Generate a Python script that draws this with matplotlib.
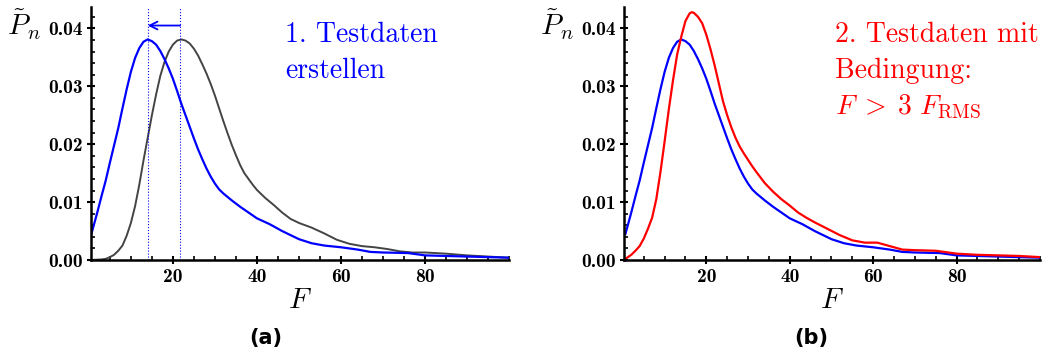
import matplotlib
matplotlib.use('Agg')
import matplotlib.pyplot as plt
from matplotlib.ticker import MultipleLocator, FixedLocator, FormatStrFormatter

plt.rcParams['mathtext.fontset'] = 'cm'

# blue: created test data (shifted distribution)
blue_x = [0.6, 2, 3, 4, 5, 6, 7, 8, 9, 10, 11, 12, 13, 14, 15, 16, 17, 18, 19, 20,
          21, 22, 23, 24, 25, 26, 27, 28, 29, 30, 31, 32, 34, 36, 38, 40, 43, 46,
          48, 50, 53, 56, 60, 64, 67, 70, 76, 80, 85, 90, 95, 100]
blue_y = [0.0045, 0.0082, 0.0110, 0.0137, 0.0168, 0.0198, 0.0228, 0.0262, 0.0295,
          0.0325, 0.0349, 0.0366, 0.0377, 0.0381, 0.0378, 0.0372, 0.0361, 0.0347,
          0.0331, 0.0313, 0.0292, 0.0270, 0.0250, 0.0230, 0.0210, 0.0191, 0.0174,
          0.0158, 0.0144, 0.0132, 0.0122, 0.0115, 0.0103, 0.0092, 0.0082, 0.0072,
          0.0062, 0.0050, 0.0043, 0.0036, 0.0029, 0.0025, 0.0022, 0.0018, 0.0014,
          0.0013, 0.0012, 0.0008, 0.0007, 0.0006, 0.0005, 0.0004]

# gray: original distribution
gray_x = [0.5, 3, 4, 5, 6, 7, 8, 9, 10, 11, 12, 13, 14, 15, 16, 17, 18, 19, 20, 21,
          22, 23, 24, 25, 26, 27, 28, 29, 30, 31, 32, 33, 34, 35, 36, 37, 38, 39,
          40, 41, 42, 44, 46, 48, 50, 53, 56, 59, 62, 65, 68, 71, 74, 77, 80, 85,
          90, 95, 100]
gray_y = [0.0, 0.0001, 0.0002, 0.0005, 0.0009, 0.0016, 0.0025, 0.0042, 0.0064,
          0.0093, 0.0130, 0.0172, 0.0211, 0.0250, 0.0286, 0.0318, 0.0342, 0.0360,
          0.0372, 0.0379, 0.0381, 0.0379, 0.0374, 0.0365, 0.0353, 0.0338, 0.0322,
          0.0304, 0.0284, 0.0262, 0.0240, 0.0219, 0.0199, 0.0181, 0.0164, 0.0150,
          0.0140, 0.0130, 0.0121, 0.0114, 0.0107, 0.0095, 0.0082, 0.0071, 0.0064,
          0.0056, 0.0046, 0.0035, 0.0028, 0.0024, 0.0022, 0.0019, 0.0015, 0.0013,
          0.0013, 0.0011, 0.0008, 0.0006, 0.0004]

# red: test data with condition F > 3 F_RMS
red_x = [0.2, 1, 2, 3, 4, 5, 6, 7, 8, 9, 10, 11, 12, 13, 14, 15, 16, 16.5, 17, 18,
         19, 20, 21, 22, 23, 24, 25, 26, 27, 28, 29, 30, 31, 32, 34, 36, 38, 40,
         42, 44, 46, 49, 52, 55, 58, 61, 64, 67, 70, 75, 80, 85, 90, 95, 100]
red_y = [0.0001, 0.0004, 0.0009, 0.0016, 0.0024, 0.0037, 0.0054, 0.0073, 0.0105,
         0.0152, 0.0205, 0.0260, 0.0310, 0.0355, 0.0386, 0.0413, 0.0426, 0.0428,
         0.0427, 0.0420, 0.0409, 0.0389, 0.0364, 0.0336, 0.0305, 0.0274, 0.0250,
         0.0229, 0.0211, 0.0196, 0.0184, 0.0173, 0.0162, 0.0152, 0.0133, 0.0118,
         0.0105, 0.0094, 0.0082, 0.0073, 0.0065, 0.0054, 0.0043, 0.0034, 0.0030,
         0.0030, 0.0024, 0.0018, 0.0017, 0.0016, 0.0011, 0.0009, 0.0008, 0.0007,
         0.0005]

x_ticks = [20, 40, 60, 80]
peak_blue = 14.0
peak_gray = 21.7
arrow_y = 0.0405

fig = plt.figure(figsize=(10.54, 3.63), dpi=100)
ax1 = fig.add_axes([0.0863, 0.2837, 0.3967, 0.697])
ax2 = fig.add_axes([0.5918, 0.2837, 0.3949, 0.697])


def style(ax, xmin):
    ax.set_xlim(xmin, 100)
    ax.set_ylim(0, 0.0437)
    for s in ['top', 'right']:
        ax.spines[s].set_visible(False)
    for s in ['left', 'bottom']:
        ax.spines[s].set_linewidth(1.8)
    ax.xaxis.set_major_locator(FixedLocator(x_ticks))
    ax.xaxis.set_minor_locator(MultipleLocator(5))
    ax.yaxis.set_major_locator(MultipleLocator(0.01))
    ax.yaxis.set_minor_locator(MultipleLocator(0.002))
    ax.xaxis.set_major_formatter(FormatStrFormatter('%d'))
    ax.yaxis.set_major_formatter(FormatStrFormatter('%.2f'))
    ax.tick_params(which='major', direction='inout', length=6, width=1.5,
                   labelsize=14, pad=3)
    ax.tick_params(which='minor', direction='in', length=3, width=1.2)
    for lab in ax.get_xticklabels() + ax.get_yticklabels():
        lab.set_fontfamily('cmb10')
    ax.set_xlabel(r'$F$', fontsize=21, labelpad=0)
    ax.text(-0.16, 0.93, r'$\tilde{P}_n$', transform=ax.transAxes,
            fontsize=21, ha='center', va='center')


style(ax1, 0.5)
ax1.plot(gray_x, gray_y, color='#444444', lw=1.4)
ax1.plot(blue_x, blue_y, color='#0000ff', lw=1.6)
ax1.axvline(peak_blue, color='#0000ff', lw=0.8, ls=':')
ax1.axvline(peak_gray, color='#0000ff', lw=0.8, ls=':')
ax1.annotate('', xy=(peak_blue, arrow_y), xytext=(peak_gray, arrow_y),
             arrowprops=dict(arrowstyle='->', color='#0000ff', lw=1.3,
                             mutation_scale=14, shrinkA=0, shrinkB=0))
ax1.text(0.465, 0.86, '1. Testdaten', transform=ax1.transAxes, color='#0000ff',
         fontsize=20, fontfamily='cmr10', ha='left', va='baseline')
ax1.text(0.465, 0.718, 'erstellen', transform=ax1.transAxes, color='#0000ff',
         fontsize=20, fontfamily='cmr10', ha='left', va='baseline')

style(ax2, 0.2)
ax2.plot(blue_x, blue_y, color='#0000ff', lw=1.6)
ax2.plot(red_x, red_y, color='#ff0000', lw=1.6)
ax2.text(0.508, 0.86, '2. Testdaten mit', transform=ax2.transAxes, color='#ff0000',
         fontsize=20, fontfamily='cmr10', ha='left', va='baseline')
ax2.text(0.508, 0.718, 'Bedingung:', transform=ax2.transAxes, color='#ff0000',
         fontsize=20, fontfamily='cmr10', ha='left', va='baseline')
ax2.text(0.508, 0.576, r'$F\;>\;3\ F_{\mathrm{RMS}}$', transform=ax2.transAxes,
         color='#ff0000', fontsize=20, ha='left', va='baseline')

fig.text(266 / 1054, 1 - 338 / 363, '(a)', fontsize=15, fontweight='bold',
         ha='center', va='center')
fig.text(811 / 1054, 1 - 338 / 363, '(b)', fontsize=15, fontweight='bold',
         ha='center', va='center')

fig.savefig('out.png', dpi=100)
